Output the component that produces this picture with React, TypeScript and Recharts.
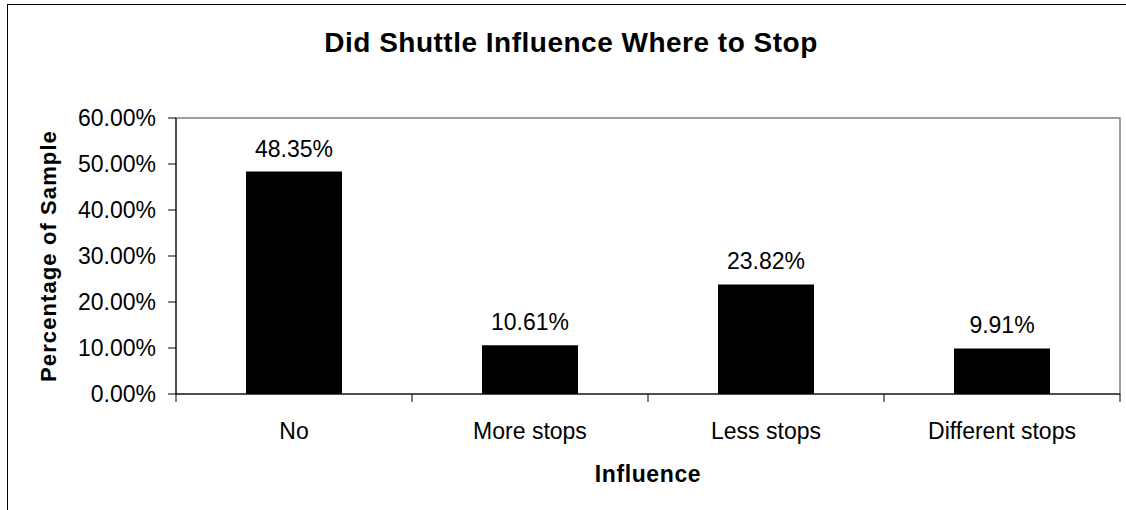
import { BarChart, Bar, XAxis, YAxis, LabelList, ReferenceArea } from "recharts";

const categories = ["No", "More stops", "Less stops", "Different stops"];
const shares = [48.35, 10.61, 23.82, 9.91];
const yTicks = [0, 10, 20, 30, 40, 50, 60];

const FONT = "'Liberation Sans', Arial, sans-serif";
const pct = (v: number) => `${Number(v).toFixed(2)}%`;

const data = categories.map((name, i) => ({ name, share: shares[i] }));

// Excel-style category axis: tick marks sit on the boundaries between bars
const CategoryTick = (props: any) => {
  const { x, y, payload, index, visibleTicksCount, width } = props;
  const half =
    payload?.offset ?? (width && visibleTicksCount ? width / visibleTicksCount / 2 : 0);
  const last = index === visibleTicksCount - 1;
  return (
    <g>
      <line x1={x - half} x2={x - half} y1={y} y2={y + 8} stroke="#000" strokeWidth={1} />
      {last && <line x1={x + half} x2={x + half} y1={y} y2={y + 8} stroke="#000" strokeWidth={1} />}
      <text
        x={x}
        y={y + 29}
        dy="0.71em"
        textAnchor="middle"
        fill="#000"
        fontSize={23}
        fontFamily={FONT}
      >
        {payload.value}
      </text>
    </g>
  );
};

export default function App() {
  return (
    <div
      style={{
        position: "absolute",
        left: 0,
        top: 0,
        width: 1126,
        height: 510,
        overflow: "hidden",
        background: "#fff",
        fontFamily: FONT,
      }}
    >
      {/* outer chart frame */}
      <div
        style={{
          position: "absolute",
          left: 7,
          top: 4,
          width: 1200,
          height: 600,
          borderLeft: "1.5px solid #000",
          borderTop: "1.5px solid #000",
        }}
      />
      <div
        style={{
          position: "absolute",
          left: 0,
          top: 29,
          width: 1142,
          textAlign: "center",
          fontSize: 28,
          lineHeight: 1,
          fontWeight: "bold",
          letterSpacing: 0.5,
          color: "#000",
        }}
      >
        Did Shuttle Influence Where to Stop
      </div>
      <div style={{ position: "absolute", left: 0, top: 0 }}>
        <BarChart
          width={1126}
          height={510}
          data={data}
          margin={{ top: 118, right: 6, bottom: 0, left: 0 }}
        >
          {/* grey plot-area border */}
          <ReferenceArea
            x1={categories[0]}
            x2={categories[categories.length - 1]}
            y1={0}
            y2={60}
            fill="none"
            stroke="#808080"
            strokeWidth={1.5}
            ifOverflow="visible"
          />
          <XAxis
            dataKey="name"
            height={116}
            tickSize={0}
            tickMargin={0}
            tickLine={false}
            axisLine={{ stroke: "#000", strokeWidth: 1 }}
            tick={<CategoryTick />}
            interval={0}
            label={{
              value: "Influence",
              position: "insideBottom",
              offset: 28,
              fill: "#000",
              fontSize: 23,
              fontWeight: "bold",
              fontFamily: FONT,
              letterSpacing: 0.6,
            }}
          />
          <YAxis
            width={176}
            domain={[0, 60]}
            ticks={yTicks}
            tickFormatter={pct}
            tickSize={8}
            tickMargin={12}
            tickLine={{ stroke: "#000" }}
            axisLine={{ stroke: "#000", strokeWidth: 1 }}
            tick={{ fill: "#000", fontSize: 23, fontFamily: FONT }}
            label={{
              value: "Percentage of Sample",
              angle: -90,
              position: "insideLeft",
              offset: 48,
              fill: "#000",
              fontSize: 22,
              fontWeight: "bold",
              fontFamily: FONT,
              letterSpacing: 1.1,
              style: { textAnchor: "middle" },
            }}
          />
          <Bar dataKey="share" fill="#000" barSize={96} isAnimationActive={false}>
            <LabelList
              dataKey="share"
              position="top"
              offset={15}
              formatter={pct}
              fill="#000"
              fontSize={23}
              fontFamily={FONT}
            />
          </Bar>
        </BarChart>
      </div>
    </div>
  );
}
